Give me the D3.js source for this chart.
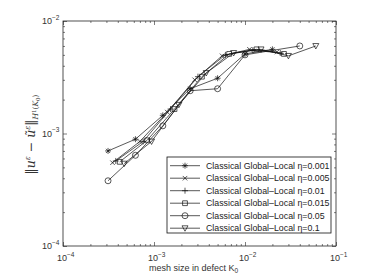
<!DOCTYPE html>
<html>
<head>
<meta charset="utf-8">
<script src="https://cdn.jsdelivr.net/npm/d3@7"></script>
<style>
  body { margin: 0; background: #fff; }
  svg { display: block; font-family: "Liberation Sans", Arial, sans-serif; }
</style>
</head>
<body>
<div id="chart"></div>
<script>
// series data (mesh size h, error)
const etaLabels = ['0.001', '0.005', '0.01', '0.015', '0.05', '0.1'];
const markers = ['star', 'cross', 'plus', 'square', 'circle', 'triangle'];

const h001 = [3.125e-4, 6.25e-4, 1.25e-3, 2.5e-3, 5e-3, 1e-2, 2e-2];
const e001 = [7.0e-4, 8.9e-4, 1.45e-3, 2.5e-3, 3.1e-3, 5.1e-3, 5.6e-3];

const h005 = [3.5e-4, 7e-4, 1.4e-3, 2.8e-3, 5.6e-3, 1.12e-2, 2.24e-2];
const e005 = [5.5e-4, 8.5e-4, 1.55e-3, 3.0e-3, 4.9e-3, 5.6e-3, 5.3e-3];

const h01 = [3.8e-4, 7.6e-4, 1.52e-3, 3.04e-3, 6.1e-3, 1.22e-2, 2.44e-2];
const e01 = [5.7e-4, 8.5e-4, 1.65e-3, 3.2e-3, 5.0e-3, 5.5e-3, 5.2e-3];

const h015 = [4.2e-4, 8.4e-4, 1.68e-3, 3.36e-3, 6.7e-3, 1.34e-2, 2.68e-2];
const e015 = [5.6e-4, 8.7e-4, 1.65e-3, 3.2e-3, 5.1e-3, 5.6e-3, 5.1e-3];

const h05 = [3.125e-4, 6.25e-4, 1.25e-3, 2.5e-3, 5e-3, 1e-2, 4e-2];
const e05 = [3.8e-4, 6.4e-4, 1.17e-3, 2.4e-3, 2.5e-3, 5.0e-3, 6.0e-3];

const h1 = [4.7e-4, 9.4e-4, 1.875e-3, 3.75e-3, 7.5e-3, 1.5e-2, 3e-2, 6e-2];
const e1 = [5.4e-4, 8.5e-4, 1.8e-3, 3.45e-3, 5.2e-3, 5.6e-3, 4.9e-3, 6.0e-3];

const hs = [h001, h005, h01, h015, h05, h1];
const es = [e001, e005, e01, e015, e05, e1];

const xExp = [-4, -3, -2, -1];
const yExp = [-4, -3, -2];

const width = 371, height = 278;
const pLeft = 63, pRight = 336, pTop = 21, pBottom = 246;

const svg = d3.select('#chart').append('svg')
  .attr('width', width).attr('height', height);

const x = d3.scaleLog().domain([1e-4, 1e-1]).range([pLeft, pRight]);
const y = d3.scaleLog().domain([1e-4, 1e-2]).range([pBottom, pTop]);

// all ticks (majors + minors) for each decade
const logTicks = (lo, hi) => {
  const t = [];
  for (let e = lo; e <= hi; e++) {
    for (let m = 1; m <= 9; m++) {
      if (e === hi && m > 1) break;
      t.push(m * Math.pow(10, e));
    }
  }
  return t;
};
const xTicks = logTicks(-4, -1), yTicks = logTicks(-4, -2);
const isMajor = v => Math.abs(Math.log10(v) - Math.round(Math.log10(v))) < 1e-9;

const axisColor = '#262626';

// inward ticks on all four sides
const drawAxis = (axis, tr) => {
  const g = svg.append('g').attr('transform', tr).call(axis);
  g.selectAll('text').remove();
  g.select('.domain').remove();
  g.selectAll('line').attr('stroke', axisColor).attr('stroke-width', 0.6);
  return g;
};
drawAxis(d3.axisBottom(x).tickValues(xTicks).tickSize(-3), `translate(0,${pBottom})`)
  .selectAll('.tick line').attr('y2', d => isMajor(d) ? -4 : -2);
drawAxis(d3.axisTop(x).tickValues(xTicks).tickSize(-3), `translate(0,${pTop})`)
  .selectAll('.tick line').attr('y2', d => isMajor(d) ? 4 : 2);
drawAxis(d3.axisLeft(y).tickValues(yTicks).tickSize(-3), `translate(${pLeft},0)`)
  .selectAll('.tick line').attr('x2', d => isMajor(d) ? 4 : 2);
drawAxis(d3.axisRight(y).tickValues(yTicks).tickSize(-3), `translate(${pRight},0)`)
  .selectAll('.tick line').attr('x2', d => isMajor(d) ? -4 : -2);

svg.append('rect')
  .attr('x', pLeft).attr('y', pTop)
  .attr('width', pRight - pLeft).attr('height', pBottom - pTop)
  .attr('fill', 'none').attr('stroke', axisColor).attr('stroke-width', 0.8);

// tick labels 10^n
const powLabel = (g, e) => {
  g.append('tspan').text('10');
  g.append('tspan').attr('dy', -4.5).attr('font-size', 6.5).text('\u2212' + Math.abs(e));
};
xExp.forEach(e => {
  const t = svg.append('text')
    .attr('x', x(Math.pow(10, e)) - 6).attr('y', pBottom + 15)
    .attr('font-size', 9).attr('fill', '#333');
  powLabel(t, e);
});
yExp.forEach(e => {
  const t = svg.append('text')
    .attr('x', pLeft - 21).attr('y', y(Math.pow(10, e)) + 3)
    .attr('font-size', 9).attr('fill', '#333');
  powLabel(t, e);
});

// x title
const xt = svg.append('text')
  .attr('x', (pLeft + pRight) / 2 - 6).attr('y', 271)
  .attr('text-anchor', 'middle').attr('font-size', 9).attr('fill', '#333');
xt.append('tspan').text('mesh size in defect K');
xt.append('tspan').attr('dy', 2).attr('font-size', 6.5).text('0');

// y title (math)
const yt = svg.append('text')
  .attr('transform', `translate(35,${(pTop + pBottom) / 2 + 1}) rotate(-90)`)
  .attr('text-anchor', 'middle').attr('font-size', 12.5)
  .attr('font-family', '"DejaVu Serif", serif').attr('fill', '#333');
yt.append('tspan').text('\u2016');
yt.append('tspan').attr('font-style', 'italic').text('u');
yt.append('tspan').attr('dy', -5).attr('font-size', 7.5).attr('font-style', 'italic').text('\u03b5');
yt.append('tspan').attr('dy', 5).text(' \u2212 ');
yt.append('tspan').attr('font-style', 'italic').text('\u0169');
yt.append('tspan').attr('dy', -5).attr('font-size', 7.5).attr('font-style', 'italic').text('\u03b5');
yt.append('tspan').attr('dy', 5).text('\u2016');
yt.append('tspan').attr('dy', 3).attr('font-size', 7.5).attr('font-style', 'italic').text('H');
yt.append('tspan').attr('dy', -2.5).attr('font-size', 5.5).text('1');
yt.append('tspan').attr('dy', 2.5).attr('font-size', 7.5).text('(');
yt.append('tspan').attr('font-size', 7.5).attr('font-style', 'italic').text('K');
yt.append('tspan').attr('dy', 1.5).attr('font-size', 5.5).text('0');
yt.append('tspan').attr('dy', -1.5).attr('font-size', 7.5).text(')');

// marker shapes
const markerPath = (kind, s) => {
  switch (kind) {
    case 'star': return `M${-s},0H${s}M0,${-s}V${s}M${-s*0.7},${-s*0.7}L${s*0.7},${s*0.7}M${-s*0.7},${s*0.7}L${s*0.7},${-s*0.7}`;
    case 'cross': return `M${-s*0.75},${-s*0.75}L${s*0.75},${s*0.75}M${-s*0.75},${s*0.75}L${s*0.75},${-s*0.75}`;
    case 'plus': return `M${-s},0H${s}M0,${-s}V${s}`;
    case 'square': return `M${-s*0.8},${-s*0.8}H${s*0.8}V${s*0.8}H${-s*0.8}Z`;
    case 'circle': return `M${s},0A${s},${s} 0 1,1 ${-s},0A${s},${s} 0 1,1 ${s},0Z`;
    case 'triangle': return `M${-s},${-s*0.8}H${s}L0,${s}Z`;
  }
};

const line = d3.line().x(d => x(d[0])).y(d => y(d[1]));

hs.forEach((h, i) => {
  const pts = h.map((v, j) => [v, es[i][j]]);
  const g = svg.append('g');
  g.append('path').attr('d', line(pts))
    .attr('fill', 'none').attr('stroke', '#111').attr('stroke-width', 0.7);
  g.selectAll('path.m').data(pts).enter().append('path')
    .attr('class', 'm')
    .attr('transform', d => `translate(${x(d[0])},${y(d[1])})`)
    .attr('d', markerPath(markers[i], 3))
    .attr('fill', 'none').attr('stroke', '#111').attr('stroke-width', 0.7);
});

// legend
const lg = svg.append('g');
lg.append('rect').attr('x', 167).attr('y', 157).attr('width', 164).attr('height', 76)
  .attr('fill', '#fff').attr('stroke', '#111').attr('stroke-width', 0.8);
etaLabels.forEach((lab, i) => {
  const ly = 165.7 + i * 12.5;
  lg.append('line').attr('x1', 170).attr('x2', 200).attr('y1', ly).attr('y2', ly)
    .attr('stroke', '#111').attr('stroke-width', 0.7);
  lg.append('path').attr('transform', `translate(185,${ly})`)
    .attr('d', markerPath(markers[i], 3))
    .attr('fill', 'none').attr('stroke', '#111').attr('stroke-width', 0.7);
  lg.append('text').attr('x', 206).attr('y', ly + 3.2)
    .attr('font-size', 8.8).attr('fill', '#222')
    .text('Classical Global\u2013Local \u03b7=' + lab);
});
</script>
</body>
</html>
